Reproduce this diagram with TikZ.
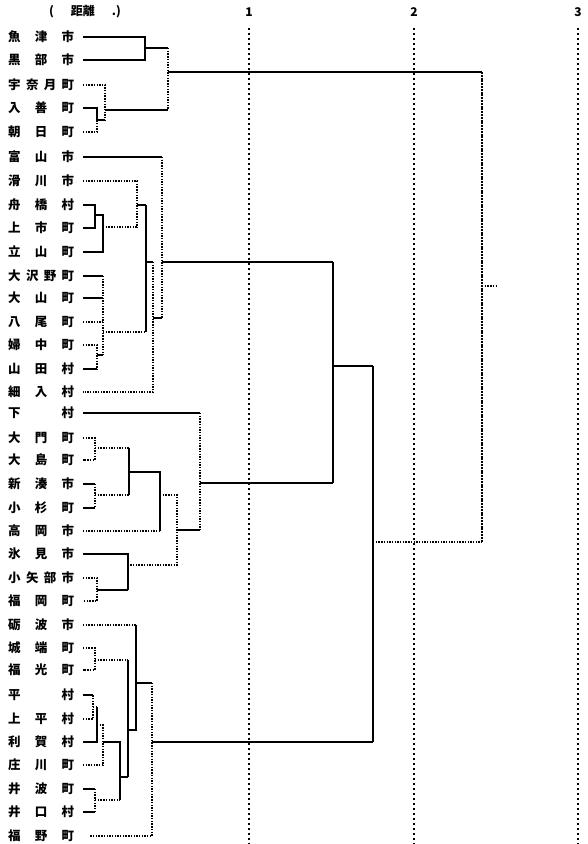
\documentclass[tikz,border=0pt]{standalone}
\usepackage{fontspec}
\newfontfamily\cjk{Noto Sans CJK JP}
\newcommand\LL[1]{\makebox[66pt][s]{#1}}
\begin{document}
\begin{tikzpicture}[x=1pt,y=-1pt,
  sol/.style={line width=1.6pt},
  dot/.style={line width=1.3pt, dash pattern=on 1.4pt off 1.3pt},
  grid/.style={line width=1.4pt, dash pattern=on 1.5pt off 3.5pt},
  lab/.style={anchor=west, inner sep=0pt, font=\cjk\bfseries\fontsize{12.5}{12.5}\selectfont},
  num/.style={inner sep=0pt, font=\cjk\bfseries\fontsize{12}{12}\selectfont}]
\useasboundingbox (0,0) rectangle (587,844);
% header and axis
\node[num] (hd) at (85,12) {(\hspace{17pt}距離\hspace{17pt}.)};
\foreach \x/\n in {249/1,414/2,578/3}{
  \node[num] (t\n) at (\x,12) {\n};
  \coordinate (g\n) at (\x,28);
  \draw[grid] (g\n) -- (\x,844);
}
% labels
\foreach \i/\y/\t in {
 1/37/魚\hfill 津\hfill 市, 2/60/黒\hfill 部\hfill 市, 3/85/宇\hfill 奈\hfill 月\hfill 町,
 4/108/入\hfill 善\hfill 町, 5/132/朝\hfill 日\hfill 町, 6/157/富\hfill 山\hfill 市,
 7/181/滑\hfill 川\hfill 市, 8/205/舟\hfill 橋\hfill 村, 9/228/上\hfill 市\hfill 町,
 10/252/立\hfill 山\hfill 町, 11/276/大\hfill 沢\hfill 野\hfill 町, 12/298/大\hfill 山\hfill 町,
 13/322/八\hfill 尾\hfill 町, 14/345/婦\hfill 中\hfill 町, 15/369/山\hfill 田\hfill 村,
 16/392/細\hfill 入\hfill 村, 17/413/下\hfill 村, 18/438/大\hfill 門\hfill 町,
 19/460/大\hfill 島\hfill 町, 20/484/新\hfill 湊\hfill 市, 21/508/小\hfill 杉\hfill 町,
 22/531/高\hfill 岡\hfill 市, 23/554/氷\hfill 見\hfill 市, 24/578/小\hfill 矢\hfill 部\hfill 市,
 25/601/福\hfill 岡\hfill 町, 26/625/砺\hfill 波\hfill 市, 27/648/城\hfill 端\hfill 町,
 28/670/福\hfill 光\hfill 町, 29/695/平\hfill 村, 30/719/上\hfill 平\hfill 村,
 31/742/利\hfill 賀\hfill 村, 32/765/庄\hfill 川\hfill 町, 33/789/井\hfill 波\hfill 町,
 34/812/井\hfill 口\hfill 村, 35/836/福\hfill 野\hfill 町}{
  \node[lab] (n\i) at (8,\y) {\LL{\t}};
  \coordinate (r\i) at (83,\y);
}
\coordinate (r35) at (90,836);
% top cluster
\draw[sol] (r1) -- (145,37) -- (145,60) -- (r2);
\draw[sol] (145,48) -- (168,48);
\draw[dot] (r3) -- (105,85) -- (105,120);
\draw[sol] (r4) -- (97,108) -- (97,120);
\draw[dot] (r5) -- (97,132) -- (97,120);
\draw[sol] (97,120) -- (105,120);
\draw[sol] (105,110) -- (168,110);
\draw[dot] (168,48) -- (168,110);
\draw[sol] (168,72) -- (482,72);
\draw[dot,line width=1.5pt,dash pattern=on 2pt off 0.8pt] (482,72) -- (482,542);
\draw[dot] (482,286) -- (498,286);
\draw[dot] (373,542) -- (482,542);
\draw[sol] (373,366) -- (373,742);
\draw[sol] (333,366) -- (373,366);
\draw[sol] (333,262) -- (333,483);
\draw[sol] (162,262) -- (333,262);
\draw[sol] (200,483) -- (333,483);
% Toyama cluster
\draw[sol] (r6) -- (162,157);
\draw[dot] (162,157) -- (162,318);
\draw[sol] (153,318) -- (162,318);
\draw[dot] (153,262) -- (153,392) -- (r16);
\draw[sol] (146,262) -- (153,262);
\draw[sol] (146,205) -- (146,332);
\draw[dot] (r7) -- (137,181) -- (137,227);
\draw[sol] (137,205) -- (146,205);
\draw[sol] (r8) -- (95,205) -- (95,228) -- (r9);
\draw[sol] (95,215) -- (103,215) -- (103,252) -- (r10);
\draw[dot] (103,227) -- (137,227);
\draw[sol] (r11) -- (103,276);
\draw[sol] (r12) -- (103,298);
\draw[dot] (r13) -- (103,322);
\draw[dot] (r14) -- (97,345) -- (97,369);
\draw[sol] (r15) -- (97,369);
\draw[sol] (97,355) -- (103,355);
\draw[dot] (103,276) -- (103,355);
\draw[dot] (103,332) -- (146,332);
% Takaoka cluster
\draw[sol] (r17) -- (200,413);
\draw[dot] (200,413) -- (200,530);
\draw[sol] (177,530) -- (200,530);
\draw[dot] (r18) -- (95,438) -- (95,460) -- (r19);
\draw[dot] (95,448) -- (129,448);
\draw[sol] (r20) -- (95,484);
\draw[sol] (r21) -- (95,508);
\draw[dot] (95,484) -- (95,508);
\draw[dot] (95,495) -- (129,495);
\draw[sol] (129,448) -- (129,495);
\draw[sol] (129,472) -- (160,472) -- (160,531);
\draw[dot] (r22) -- (160,531);
\draw[dot] (160,495) -- (177,495) -- (177,565) -- (128,565);
\draw[sol] (r23) -- (128,554) -- (128,590);
\draw[dot] (r24) -- (97,578) -- (97,601) -- (r25);
\draw[sol] (97,590) -- (128,590);
% Tonami cluster
\draw[dot] (r26) -- (136,625);
\draw[sol] (136,625) -- (136,730) -- (128,730);
\draw[dot] (r27) -- (95,648) -- (95,670) -- (r28);
\draw[dot] (95,660) -- (128,660);
\draw[sol] (128,660) -- (128,777);
\draw[sol] (136,683) -- (152,683);
\draw[dot] (152,683) -- (152,836) -- (r35);
\draw[sol] (152,742) -- (373,742);
\draw[sol] (r29) -- (93,695);
\draw[dot] (r30) -- (93,719) -- (93,695);
\draw[dot] (93,707) -- (97,707);
\draw[sol] (r31) -- (97,742) -- (97,707);
\draw[dot] (97,725) -- (103,725) -- (103,765) -- (r32);
\draw[sol] (103,742) -- (120,742) -- (120,800);
\draw[sol] (r33) -- (95,789);
\draw[sol] (r34) -- (95,812);
\draw[dot] (95,789) -- (95,812);
\draw[dot] (95,800) -- (120,800);
\draw[sol] (120,777) -- (128,777);
\end{tikzpicture}
\end{document}
